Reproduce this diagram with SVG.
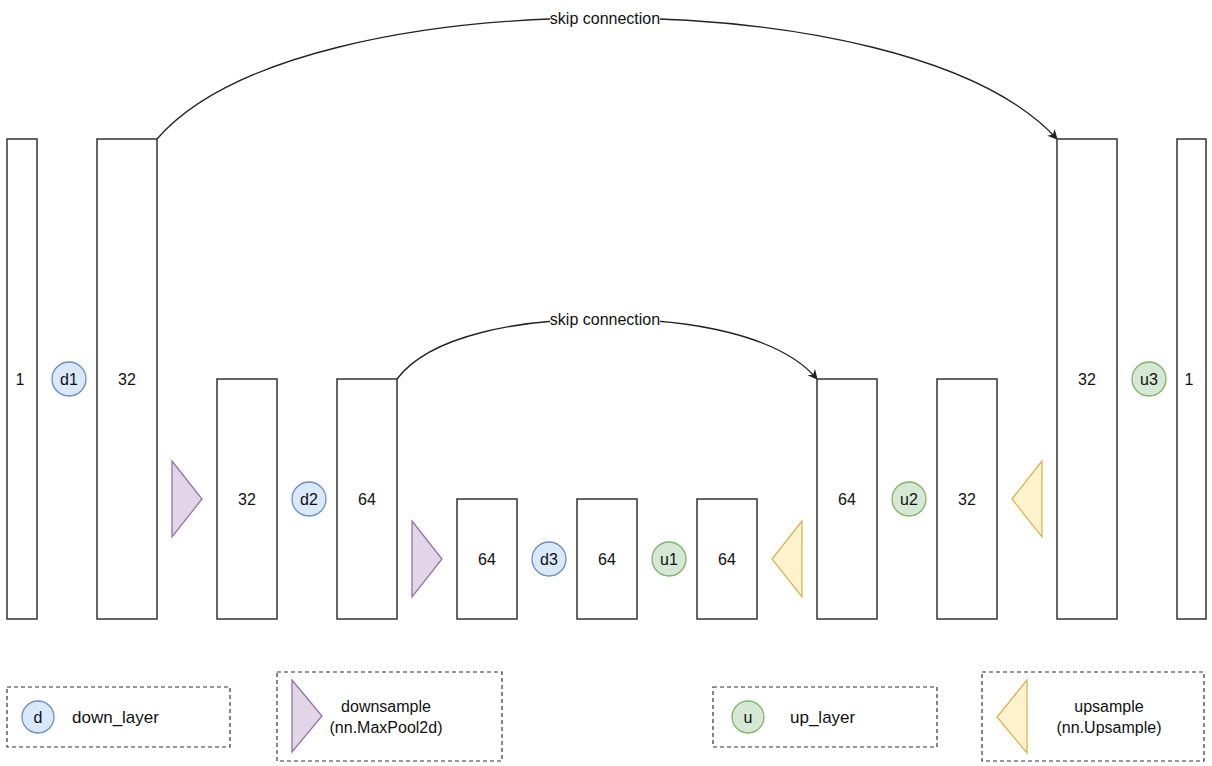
<svg xmlns="http://www.w3.org/2000/svg" width="1212" height="766" viewBox="0 0 1212 766">
<style>
.blk{fill:#fff;stroke:#333;stroke-width:1.5}
.t{font-family:"Liberation Sans",Arial,sans-serif;font-size:16px;fill:#111;text-anchor:middle;dominant-baseline:central}
.tl{font-family:"Liberation Sans",Arial,sans-serif;font-size:17px;fill:#111;dominant-baseline:central}
.sk{font-family:"Liberation Sans",Arial,sans-serif;font-size:16px;fill:#111;text-anchor:middle;dominant-baseline:central}
.dn{fill:#dae8fc;stroke:#6c8ebf;stroke-width:1.3}
.up{fill:#d5e8d4;stroke:#82b366;stroke-width:1.3}
.pool{fill:#e1d5e7;stroke:#9673a6;stroke-width:1.3}
.ups{fill:#fff2cc;stroke:#d6b656;stroke-width:1.3}
.lg{fill:#fff;stroke:#333;stroke-width:1.2;stroke-dasharray:4 3}
.edge{fill:none;stroke:#222;stroke-width:1.3}
</style>
<defs>
<marker id="arr" viewBox="0 0 10 10" refX="9" refY="5" markerWidth="10" markerHeight="10" markerUnits="userSpaceOnUse" orient="auto">
<path d="M0,0 L10,5 L0,10 L3,5 Z" fill="#222"/>
</marker>
</defs>
<rect width="1212" height="766" fill="#fff"/>

<g id="connectors">
<path class="edge" d="M157,139 C230,55 420,18 605,18 C790,18 980,55 1057,139" marker-end="url(#arr)"/>
<rect x="550" y="9" width="110" height="18" fill="#fff"/>
<text class="sk" x="605" y="18">skip connection</text>
<path class="edge" d="M397,379 C430,335 520,319 605,319 C690,319 780,335 817,379" marker-end="url(#arr)"/>
<rect x="550" y="310" width="110" height="18" fill="#fff"/>
<text class="sk" x="605" y="319">skip connection</text>
</g>

<g id="in1"><rect class="blk" x="7" y="139" width="30" height="480"/><text class="t" x="20" y="379">1</text></g>
<g id="d1"><circle class="dn" cx="69" cy="379" r="17"/><text class="t" x="69" y="379">d1</text></g>
<g id="b32a"><rect class="blk" x="97" y="139" width="60" height="480"/><text class="t" x="127" y="379">32</text></g>
<g id="pool1"><polygon class="pool" points="172,461 202,499 172,537"/></g>
<g id="b32b"><rect class="blk" x="217" y="379" width="60" height="240"/><text class="t" x="247" y="499">32</text></g>
<g id="d2"><circle class="dn" cx="309" cy="499" r="17"/><text class="t" x="309" y="499">d2</text></g>
<g id="b64a"><rect class="blk" x="337" y="379" width="60" height="240"/><text class="t" x="367" y="499">64</text></g>
<g id="pool2"><polygon class="pool" points="412,521 442,559 412,597"/></g>
<g id="b64b"><rect class="blk" x="457" y="499" width="60" height="120"/><text class="t" x="487" y="559">64</text></g>
<g id="d3"><circle class="dn" cx="549" cy="559" r="17"/><text class="t" x="549" y="559">d3</text></g>
<g id="b64c"><rect class="blk" x="577" y="499" width="60" height="120"/><text class="t" x="607" y="559">64</text></g>
<g id="u1"><circle class="up" cx="669" cy="559" r="17"/><text class="t" x="669" y="559">u1</text></g>
<g id="b64d"><rect class="blk" x="697" y="499" width="60" height="120"/><text class="t" x="727" y="559">64</text></g>
<g id="ups1"><polygon class="ups" points="802,521 772,559 802,597"/></g>
<g id="b64e"><rect class="blk" x="817" y="379" width="60" height="240"/><text class="t" x="847" y="499">64</text></g>
<g id="u2"><circle class="up" cx="909" cy="499" r="17"/><text class="t" x="909" y="499">u2</text></g>
<g id="b32c"><rect class="blk" x="937" y="379" width="60" height="240"/><text class="t" x="967" y="499">32</text></g>
<g id="ups2"><polygon class="ups" points="1042,461 1012,499 1042,537"/></g>
<g id="b32d"><rect class="blk" x="1057" y="139" width="60" height="480"/><text class="t" x="1087" y="379">32</text></g>
<g id="u3"><circle class="up" cx="1149" cy="379" r="17"/><text class="t" x="1149" y="379">u3</text></g>
<g id="out1"><rect class="blk" x="1177" y="139" width="29" height="480"/><text class="t" x="1189" y="379">1</text></g>

<g id="legend-down">
<rect class="lg" x="7" y="687" width="223" height="60"/>
<circle class="dn" cx="38" cy="717" r="16"/><text class="t" x="38" y="717">d</text>
<text class="tl" x="72" y="717">down_layer</text>
</g>
<g id="legend-pool">
<rect class="lg" x="277" y="672" width="225" height="89"/>
<polygon class="pool" points="292,680 322,716 292,752"/>
<text class="t" x="386" y="706">downsample</text>
<text class="t" x="386" y="727">(nn.MaxPool2d)</text>
</g>
<g id="legend-up">
<rect class="lg" x="713" y="687" width="224" height="60"/>
<circle class="up" cx="748" cy="717" r="16"/><text class="t" x="748" y="717">u</text>
<text class="tl" x="790" y="717">up_layer</text>
</g>
<g id="legend-ups">
<rect class="lg" x="982" y="672" width="222" height="89"/>
<polygon class="ups" points="1027,680 997,717 1027,753"/>
<text class="t" x="1109" y="706">upsample</text>
<text class="t" x="1109" y="727">(nn.Upsample)</text>
</g>
</svg>
